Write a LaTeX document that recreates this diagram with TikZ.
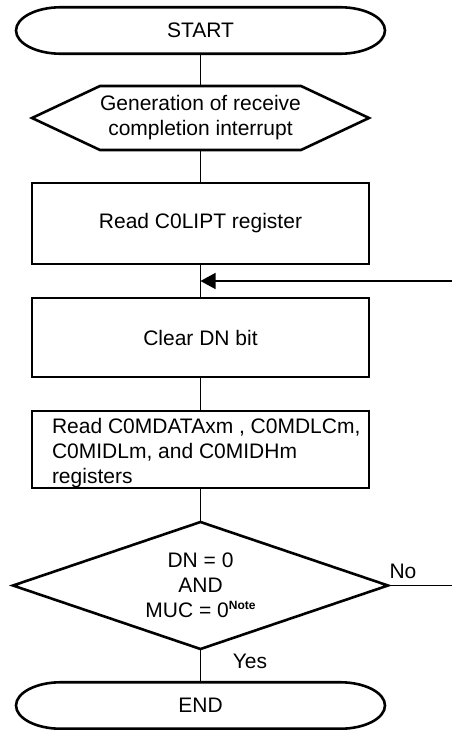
\documentclass[tikz,border=0pt]{standalone}
\usepackage{fontspec}
\setmainfont{Liberation Sans}
\usetikzlibrary{arrows.meta,calc}
\begin{document}
\begin{tikzpicture}[x=1pt,y=-1pt,
  every node/.style={font=\fontsize{21}{25}\selectfont, inner sep=0pt, outer sep=0pt},
  shapeline/.style={line width=2.6pt, line join=miter},
  conn/.style={line width=1.3pt},
  term/.style={minimum width=369pt, minimum height=46.5pt},
  procbox/.style={draw, shapeline, minimum width=337pt},
  lbl/.style={font=\fontsize{21}{25}\selectfont}
]
\useasboundingbox (0,0) rectangle (452,730);

% nodes
\node[term] (start) at (200.5,30.5) {START};
\node[minimum width=337pt, minimum height=64pt, align=center] (hex) at (200.5,118) {Generation of receive\\completion interrupt};
\node[procbox, minimum height=81pt] (r1) at (200.5,223.5) {Read C0LIPT register};
\node[procbox, minimum height=79pt] (r2) at (200.5,337.5) {Clear DN bit};
\node[procbox, minimum height=77pt] (r3) at (200.5,449.5) {};
\node[anchor=west, align=left] (r3t) at (52,453) {Read C0MDATAxm , C0MDLCm,\\C0MIDLm, and C0MIDHm\\registers};
\node[minimum width=375pt, minimum height=127pt, align=center] (dec) at (200.5,585.5) {DN = 0\\AND\\MUC = 0\raisebox{8pt}{\fontsize{12}{12}\selectfont\bfseries Note}};
\node[term] (end) at (200.5,705.5) {END};
\node[lbl] (yes) at (250,661) {Yes};
\node[lbl] (no) at (403,571) {No};
\coordinate (loopin) at (452,281);
\coordinate (noend) at (452,585.5);

% terminal outlines
\foreach \n in {start,end}{
  \draw[shapeline] ([xshift=45pt]\n.north west) -- ([xshift=-45pt]\n.north east)
    arc[start angle=90, end angle=-90, x radius=45pt, y radius=23.25pt]
    -- ([xshift=45pt]\n.south west)
    arc[start angle=270, end angle=90, x radius=45pt, y radius=23.25pt] -- cycle;
}
% hexagon
\draw[shapeline] (hex.west) -- ([xshift=68pt]hex.north west) -- ([xshift=-68pt]hex.north east)
  -- (hex.east) -- ([xshift=-68pt]hex.south east) -- ([xshift=68pt]hex.south west) -- cycle;
% decision diamond
\draw[shapeline] (dec.north) -- (dec.east) -- (dec.south) -- (dec.west) -- cycle;

% connectors
\draw[conn] (start.south) -- (hex.north);
\draw[conn] (hex.south) -- (r1.north);
\draw[conn] (r1.south) -- (r2.north);
\draw[conn] (r2.south) -- (r3.north);
\draw[conn] (r3.south) -- (dec.north);
\draw[conn] (dec.south) -- (end.north);
\draw[conn] (dec.east) -- (noend);
\draw[conn, -{Triangle[length=15pt,width=16pt]}] (loopin) -- (loopin -| r1.south);
\end{tikzpicture}
\end{document}
